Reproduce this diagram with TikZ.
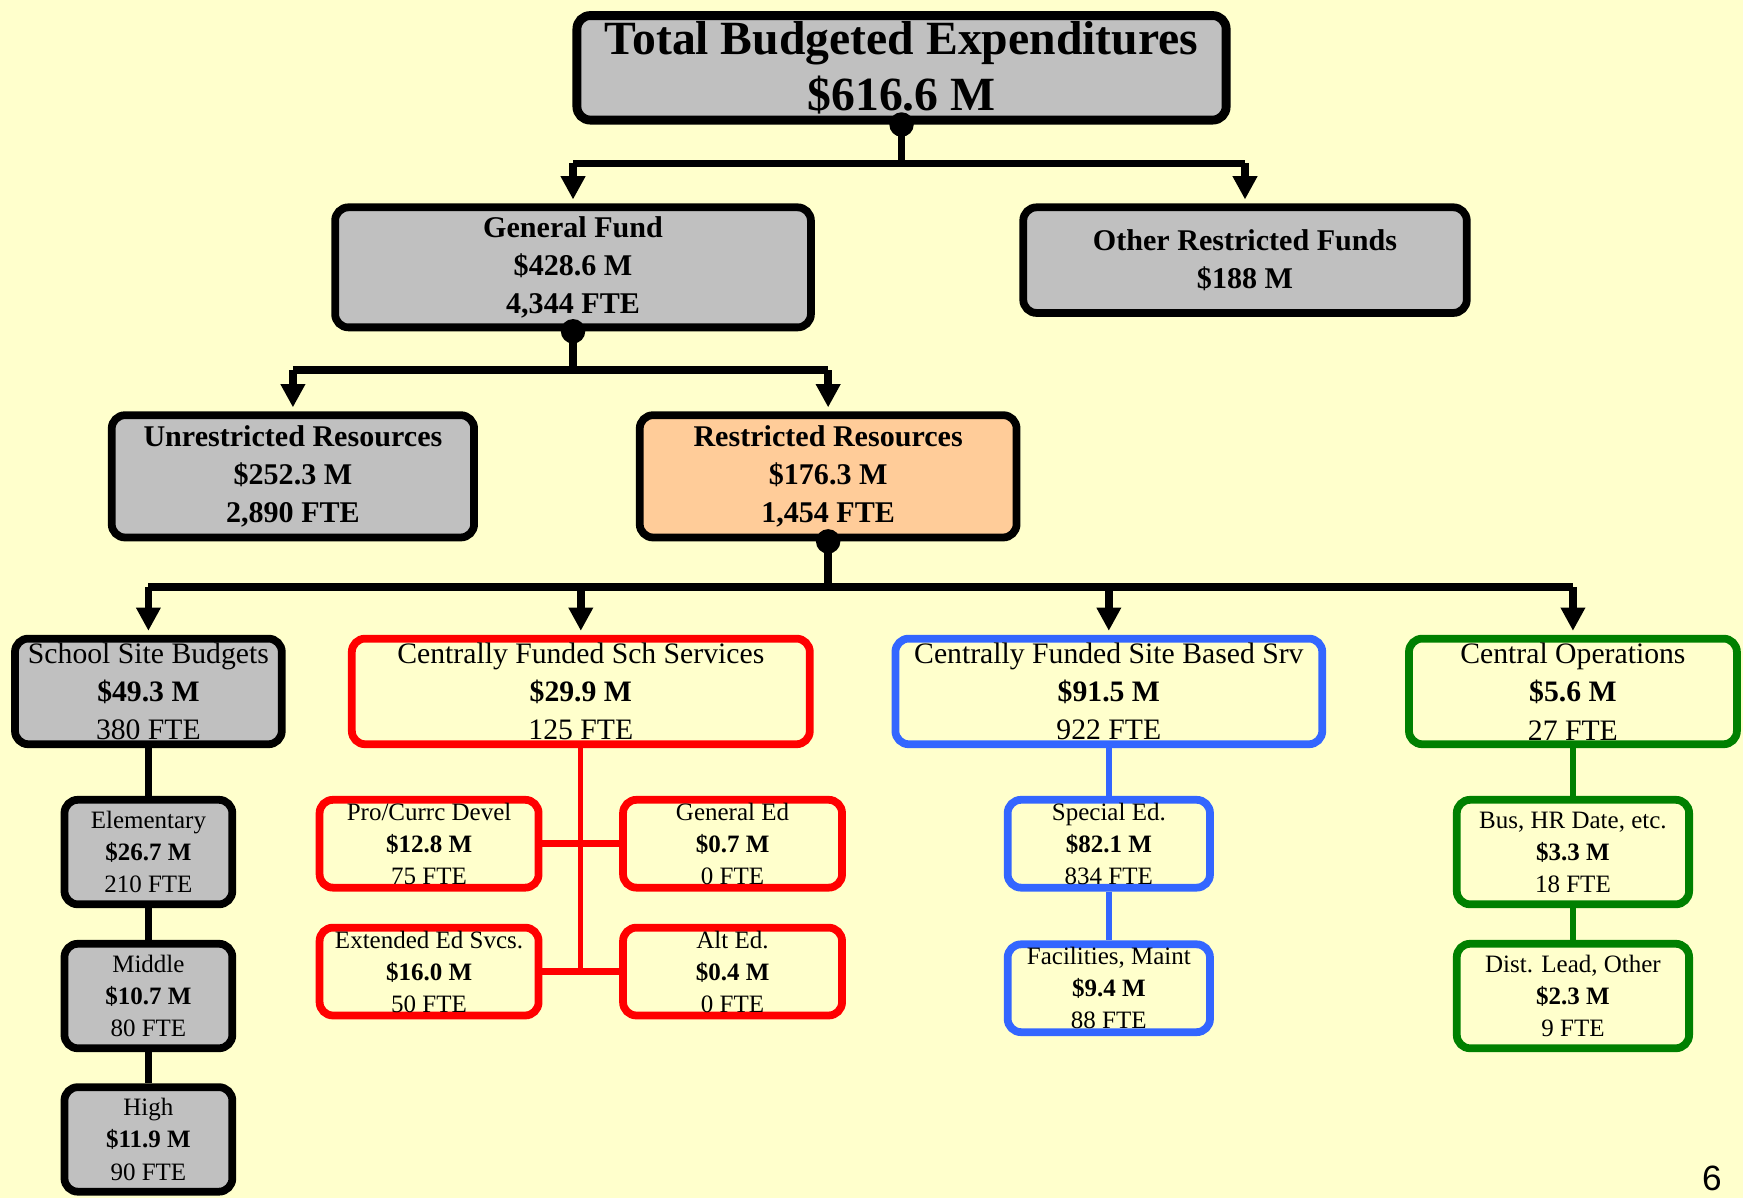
\documentclass[tikz,border=0pt]{standalone}
\usepackage{fontspec}
\setmainfont{Liberation Serif}
\newfontfamily\pagefont{Liberation Sans}
\usepackage{tikz}
\usepackage{xcolor}
\usetikzlibrary{calc}
\usetikzlibrary{positioning}
\usetikzlibrary{arrows.meta}

\definecolor{bgyellow}{HTML}{FFFFCC}
\definecolor{boxgray}{HTML}{C0C0C0}
\definecolor{peach}{HTML}{FFCC99}
\definecolor{fundred}{HTML}{FF0000}
\definecolor{fundblue}{HTML}{3366FF}
\definecolor{fundgreen}{HTML}{008000}

\begin{document}
\begin{tikzpicture}[
  box/.style={draw, line width=0.07cm, rounded corners=0.12cm, inner sep=0pt, align=center},
  topfont/.style={font=\fontsize{12.2}{14.2}\selectfont\bfseries},
  bigfont/.style={font=\fontsize{7.7}{9.8}\selectfont\bfseries, execute at begin node={\rule{0pt}{6.7pt}}},
  midfont/.style={font=\fontsize{7.6}{9.8}\selectfont},
  smallfont/.style={font=\fontsize{6.4}{8.2}\selectfont},
  stem/.style={line width=0.07cm},
  bar/.style={line width=0.07cm},
  down/.style={stem, shorten >=0.035cm, -{Triangle[width=0.21cm,length=0.21cm]}},
  knob/.style={circle, fill, inner sep=0pt, minimum size=0.22cm}
]
\fill[bgyellow] (0,0) rectangle (15.68,-10.78);

% top row
\node[box, fill=boxgray, line width=0.08cm, minimum width=5.84cm, minimum height=0.94cm, topfont]
  (total) at (8.11,-0.61) {Total Budgeted Expenditures\\\$616.6 M};
\node[box, fill=boxgray, minimum width=4.28cm, minimum height=1.08cm, bigfont]
  (general) at (5.155,-2.405) {General Fund\\\$428.6 M\\4,344 FTE};
\node[box, fill=boxgray, minimum width=3.99cm, minimum height=0.95cm, bigfont]
  (other) at (11.20,-2.34) {Other Restricted Funds\\\$188 M};
\node[box, fill=boxgray, minimum width=3.26cm, minimum height=1.10cm, bigfont]
  (unres) at (2.635,-4.285) {Unrestricted Resources\\\$252.3 M\\2,890 FTE};
\node[box, fill=peach, minimum width=3.39cm, minimum height=1.10cm, bigfont]
  (res) at (7.45,-4.285) {Restricted Resources\\\$176.3 M\\1,454 FTE};

% restricted resources split
\node[box, fill=boxgray, minimum width=2.40cm, minimum height=0.95cm, midfont]
  (school) at (1.335,-6.22) {School Site Budgets\\\textbf{\$49.3 M}\\380 FTE};
\node[box, draw=fundred, minimum width=4.12cm, minimum height=0.95cm, midfont]
  (schsrv) at (5.225,-6.22) {Centrally Funded Sch Services\\\textbf{\$29.9 M}\\125 FTE};
\node[box, draw=fundblue, minimum width=3.84cm, minimum height=0.95cm, midfont]
  (sitesrv) at (9.975,-6.22) {Centrally Funded Site Based Srv\\\textbf{\$91.5 M}\\922 FTE};
\node[box, draw=fundgreen, minimum width=2.95cm, minimum height=0.95cm, midfont]
  (centops) at (14.15,-6.22) {Central Operations\\\textbf{\$5.6 M}\\27 FTE};

% school sites
\node[box, fill=boxgray, minimum width=1.51cm, minimum height=0.94cm, smallfont]
  (elem) at (1.335,-7.665) {Elementary\\\textbf{\$26.7 M}\\210 FTE};
\node[box, fill=boxgray, minimum width=1.51cm, minimum height=0.94cm, smallfont]
  (middle) at (1.335,-8.96) {Middle\\\textbf{\$10.7 M}\\80 FTE};
\node[box, fill=boxgray, minimum width=1.51cm, minimum height=0.94cm, smallfont]
  (high) at (1.335,-10.25) {High\\\textbf{\$11.9 M}\\90 FTE};

% sch services
\node[box, draw=fundred, minimum width=1.97cm, minimum height=0.79cm, smallfont]
  (procurr) at (3.86,-7.59) {Pro/Currc Devel\\\textbf{\$12.8 M}\\75 FTE};
\node[box, draw=fundred, minimum width=1.97cm, minimum height=0.79cm, smallfont]
  (gened) at (6.59,-7.59) {General Ed\\\textbf{\$0.7 M}\\0 FTE};
\node[box, draw=fundred, minimum width=1.97cm, minimum height=0.79cm, smallfont]
  (exted) at (3.86,-8.74) {Extended Ed Svcs.\\\textbf{\$16.0 M}\\50 FTE};
\node[box, draw=fundred, minimum width=1.97cm, minimum height=0.79cm, smallfont]
  (alted) at (6.59,-8.74) {Alt Ed.\\\textbf{\$0.4 M}\\0 FTE};

% site based
\node[box, draw=fundblue, minimum width=1.82cm, minimum height=0.79cm, smallfont]
  (speced) at (9.975,-7.59) {Special Ed.\\\textbf{\$82.1 M}\\834 FTE};
\node[box, draw=fundblue, minimum width=1.82cm, minimum height=0.79cm, smallfont]
  (facil) at (9.975,-8.89) {Facilities, Maint\\\textbf{\$9.4 M}\\88 FTE};

% central ops
\node[box, draw=fundgreen, minimum width=2.09cm, minimum height=0.94cm, smallfont]
  (bus) at (14.15,-7.665) {Bus, HR Date, etc.\\\textbf{\$3.3 M}\\18 FTE};
\node[box, draw=fundgreen, minimum width=2.09cm, minimum height=0.94cm, smallfont]
  (dist) at (14.15,-8.96) {Dist. Lead, Other\\\textbf{\$2.3 M}\\9 FTE};

\node[font=\pagefont\fontsize{9}{10}\selectfont] (pagenum) at (15.40,-10.60) {6};

% junctions
\coordinate (j1) at (8.11,-1.47);
\coordinate (j2) at (5.155,-3.33);
\coordinate (j3) at (7.45,-5.28);

\draw[stem] (total.south) -- (j1);
\draw[bar] (general.north |- j1) -- (other.north |- j1);
\foreach \n in {general,other}
{
	\draw[down] (\n.north |- j1) -- (\n.north);
}
\node[knob] (k1) at (total.south) {};

\draw[stem] (general.south) -- (j2);
\draw[bar] (unres.north |- j2) -- (res.north |- j2);
\foreach \n in {unres,res}
{
	\draw[down] (\n.north |- j2) -- (\n.north);
}
\node[knob] (k2) at (general.south) {};

\draw[stem] (res.south) -- (j3);
\draw[bar] (school.north |- j3) -- (centops.north |- j3);
\foreach \n in {school,schsrv,sitesrv,centops}
{
	\draw[down] (\n.north |- j3) -- (\n.north);
}
\node[knob] (k3) at (res.south) {};

% lower links
\draw[line width=0.06cm] (school) -- (elem) (elem) -- (middle) (middle) -- (high);
\draw[fundred, line width=0.045cm] (schsrv.south) -- (schsrv.south |- exted);
\draw[fundred, line width=0.06cm] (procurr) -- (gened) (exted) -- (alted);
\draw[fundblue, line width=0.055cm] (sitesrv) -- (speced) (speced) -- (facil);
\draw[fundgreen, line width=0.06cm] (centops) -- (bus) (bus) -- (dist);
%\draw[red] (0,0) rectangle (15.68,-10.78);
\end{tikzpicture}
\end{document}
